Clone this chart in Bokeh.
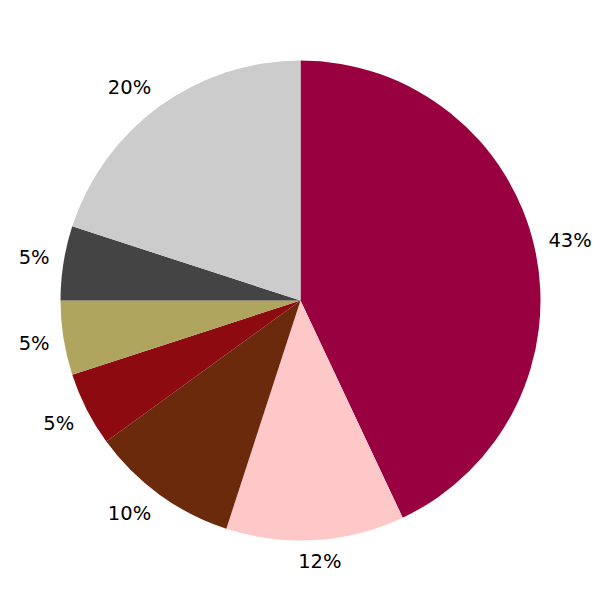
import numpy as np
from bokeh.plotting import figure
from bokeh.models import ColumnDataSource
from bokeh.core.properties import value
from bokeh.embed import file_html
from bokeh.resources import INLINE

shares = [43, 12, 10, 5, 5, 5, 20]
labels = ["43%", "12%", "10%", "5%", "5%", "5%", "20%"]
colors = ["#990040", "#FFC8C8", "#6B2A0B", "#8C0A10", "#B0A55E", "#444444", "#CCCCCC"]

R = 240
FS = 19.5

total = float(sum(shares))
frac = np.array(shares) / total
cum_end = np.cumsum(frac)
cum_start = cum_end - frac
start = np.pi / 2 - 2 * np.pi * cum_start
end = np.pi / 2 - 2 * np.pi * cum_end

mid = 2 * np.pi * (cum_start + cum_end) / 2  # clockwise from top
sx, cy = np.sin(mid), np.cos(mid)
w = np.array([FS * (0.636 * (len(t) - 1) + 0.95) for t in labels])
h = 0.77 * FS
D = R + 14
kx = np.clip(2.5 * sx, -1, 1)
ky = np.clip(2.5 * cy, -1, 1)
lx = D * sx + kx * w / 2
ly = D * cy + ky * h / 2

src = ColumnDataSource(dict(start=start, end=end, color=colors))
lsrc = ColumnDataSource(dict(x=lx, y=ly, text=labels))

p = figure(width=600, height=600, x_range=(-300, 300), y_range=(-300, 300),
           output_backend="svg", toolbar_location=None, min_border=0)
p.axis.visible = False
p.grid.visible = False
p.outline_line_color = None
p.background_fill_color = "white"

p.wedge(x=0, y=0, radius=R, start_angle="start", end_angle="end", direction="clock",
        fill_color="color", line_color=None, source=src)
p.text(x="x", y="y", text="text", source=lsrc, text_align="center",
       text_baseline="middle", text_font=value("DejaVu Sans"),
       text_font_size=f"{FS}px", text_color="black")

open("out.html", "w").write(file_html(p, INLINE))
